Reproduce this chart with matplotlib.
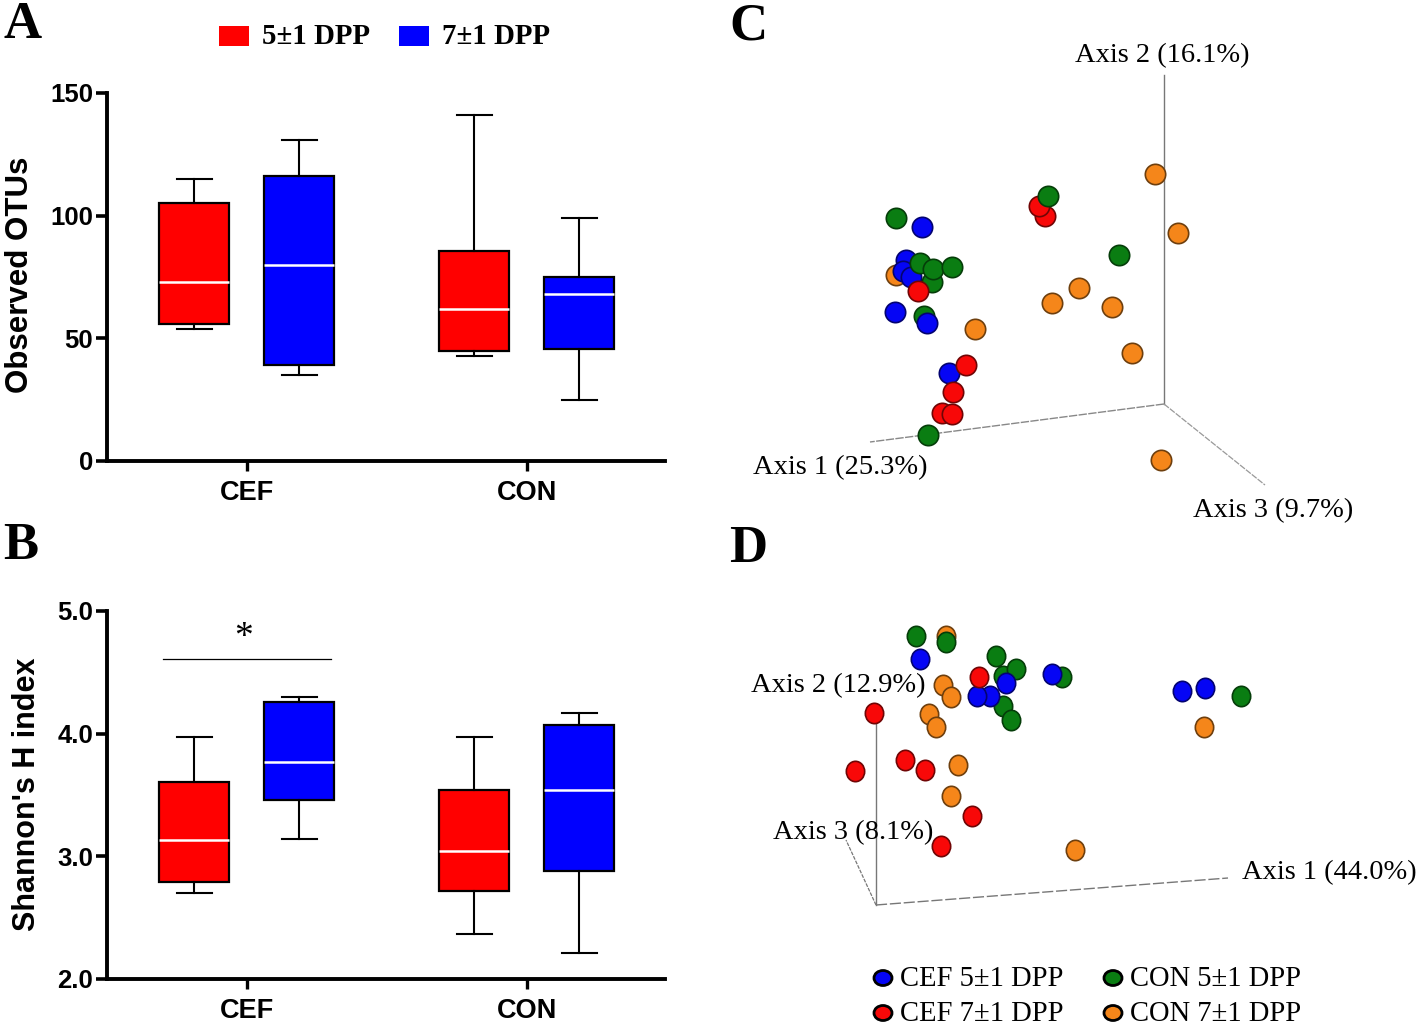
import numpy as np
import matplotlib
matplotlib.use("Agg")
import matplotlib.pyplot as plt
from matplotlib.patches import Rectangle, Ellipse
from matplotlib.path import Path
from matplotlib.transforms import Affine2D

W, H = 1418, 1025
SERIF = "Liberation Serif"
SANS = "Liberation Sans"

groups = ["CEF", "CON"]
dpp_labels = ["5±1 DPP", "7±1 DPP"]
box_colors = ["#ff0000", "#0000ff"]

# whisker low, q1, median, q3, whisker high
otus_cef_5 = [54, 56, 73, 105, 115]
otus_cef_7 = [35, 39, 80, 116, 131]
otus_con_5 = [43, 45, 62, 85.5, 141]
otus_con_7 = [25, 45.5, 68, 75, 99]

shannon_cef_5 = [2.70, 2.79, 3.13, 3.61, 3.97]
shannon_cef_7 = [3.14, 3.46, 3.77, 4.26, 4.30]
shannon_con_5 = [2.37, 2.72, 3.04, 3.54, 3.97]
shannon_con_7 = [2.21, 2.88, 3.54, 4.07, 4.17]

# PCoA points as they land on the page (already projected from 3D)
c_orange = [(896, 275), (975, 329), (1155, 174), (1178, 233), (1052, 303), (1079, 288),
            (1112, 307), (1132, 353), (1161, 460)]
c_blue = [(922, 227), (906, 260), (903, 271), (911, 277), (895, 312), (949, 373)]
c_green = [(896, 218), (920, 263), (932, 282), (933, 269), (952, 267), (924, 316), (928, 435),
           (1119, 255)]
c_red = [(918, 291), (966, 365), (953, 392), (942, 413), (952, 414), (1045, 216), (1039, 206)]
# these two sit in front of the others
c_green_front = [(1048, 196)]
c_blue_front = [(927, 323)]

d_orange = [(946, 636), (943, 685), (951, 697), (929, 714), (936, 727), (958, 765), (951, 796),
            (1075, 850), (1204, 727)]
d_green = [(916, 636), (946, 642), (996, 656), (1003, 676), (1016, 669), (1003, 706), (1011, 720),
           (1062, 677), (1241, 696)]
d_blue = [(920, 659), (1006, 683), (990, 696), (977, 696), (1052, 674), (1182, 691), (1205, 688)]
d_red = [(979, 677), (874, 713), (855, 771), (905, 760), (925, 770), (972, 816), (941, 846)]

sphere_colors = {"orange": ("#f5861a", "#6e3f0e"), "green": ("#0a7d12", "#053d09"),
                 "blue": ("#0505f5", "#030370"), "red": ("#f80808", "#700505")}

# panel D is a little squashed sideways
tall_dot = Path.unit_circle().transformed(Affine2D().scale(0.9, 1.0))


def px_axes(fig, left, top, right, bottom):
    return fig.add_axes([left / W, 1 - bottom / H, (right - left) / W, (bottom - top) / H])


def box_panel(ax, stats, ylim, yticks, yticklabels):
    # groups sit at 0 and 1, the two boxes 0.1875 either side
    offs = [-0.1875, 0.1875, 0.8125, 1.1875]
    cols = box_colors * 2
    for s, x, c in zip(stats, offs, cols):
        ax.bxp([dict(whislo=s[0], q1=s[1], med=s[2], q3=s[3], whishi=s[4], fliers=[])],
               positions=[x], widths=0.25, patch_artist=True, showfliers=False,
               boxprops=dict(facecolor=c, edgecolor="black", linewidth=1.6),
               medianprops=dict(color="white", linewidth=1.8, solid_capstyle="butt"),
               whiskerprops=dict(color="black", linewidth=1.5),
               capprops=dict(color="black", linewidth=1.5), capwidths=0.125,
               manage_ticks=False)
    ax.set_xlim(-0.5, 1.493)
    ax.set_ylim(*ylim)
    ax.set_yticks(yticks)
    ax.set_yticklabels(yticklabels)
    ax.set_xticks([0, 1])
    ax.set_xticklabels(groups, fontfamily=SANS, fontweight="bold", fontsize=19.5)
    ax.tick_params(axis="x", length=7, width=2.4, pad=7)
    ax.tick_params(axis="y", length=8, width=2.6, pad=2, labelsize=18.5)
    for t in ax.get_yticklabels():
        t.set_fontfamily(SANS)
        t.set_fontweight("bold")
    for sp in ["top", "right"]:
        ax.spines[sp].set_visible(False)
    for sp in ["left", "bottom"]:
        ax.spines[sp].set_linewidth(2.8)
    ax.patch.set_alpha(0)


fig = plt.figure(figsize=(W / 100, H / 100), dpi=100, facecolor="white")

ax_a = px_axes(fig, 107, 93, 665, 461)
box_panel(ax_a, [otus_cef_5, otus_cef_7, otus_con_5, otus_con_7], (0, 150), [0, 50, 100, 150],
          ["0", "50", "100", "150"])

ax_b = px_axes(fig, 107, 611, 665, 979)
box_panel(ax_b, [shannon_cef_5, shannon_cef_7, shannon_con_5, shannon_con_7], (2, 5),
          [2, 3, 4, 5], ["2.0", "3.0", "4.0", "5.0"])
ax_b.plot([-0.3, 0.3], [4.61, 4.61], color="black", lw=0.9)
ax_b.text(-0.012, 4.78, "*", fontfamily=SERIF, fontsize=27, ha="center", va="center")

# page overlay in pixel coordinates
ov = fig.add_axes([0, 0, 1, 1], zorder=-1)
ov.set_xlim(0, W)
ov.set_ylim(H, 0)
ov.axis("off")

ov.text(20, 275, "Observed OTUs", rotation=90, fontfamily=SANS, fontweight="bold",
        fontsize=22.5, ha="center", va="center")
ov.text(27, 794, "Shannon's H index", rotation=90, fontfamily=SANS, fontweight="bold",
        fontsize=22, ha="center", va="center")

for s, x, y in [("A", 23, 25), ("B", 21, 546), ("C", 748, 26), ("D", 748, 549)]:
    ov.text(x, y, s, fontfamily=SERIF, fontweight="bold", fontsize=38, ha="center", va="center")

for x, c, lab, tx in zip([219, 399], box_colors, dpp_labels, [262, 442]):
    ov.add_patch(Rectangle((x, 26), 30, 20, facecolor=c, edgecolor="none"))
    ov.text(tx, 37, lab, fontfamily=SERIF, fontweight="bold", fontsize=20.8, va="center")


def spheres(points, name, size=215, marker="o"):
    pts = np.array(points)
    ov.scatter(pts[:, 0], pts[:, 1], s=size, c=sphere_colors[name][0], marker=marker,
               edgecolors=sphere_colors[name][1], linewidths=1.2, zorder=3)


# panel C frame
ov.plot([1164, 1164], [75, 404], color="#777777", lw=1.0, zorder=1)
ov.plot([1164, 870], [404, 442], color="#888888", lw=1.0, ls=(0, (6, 1)), zorder=1)
ov.plot([1164, 1265], [404, 485], color="#999999", lw=0.9, ls=(0, (5, 1)), zorder=1)
for name, pts in [("orange", c_orange), ("blue", c_blue), ("green", c_green), ("red", c_red),
                  ("green", c_green_front), ("blue", c_blue_front)]:
    spheres(pts, name)
ov.text(1162, 56, "Axis 2 (16.1%)", fontfamily=SERIF, fontsize=20.5, ha="center", va="center")
ov.text(840, 468, "Axis 1 (25.3%)", fontfamily=SERIF, fontsize=20.5, ha="center", va="center")
ov.text(1273, 511, "Axis 3 (9.7%)", fontfamily=SERIF, fontsize=20.5, ha="center", va="center")

# panel D frame
ov.plot([876, 876], [905, 705], color="#777777", lw=1.0, zorder=1)
ov.plot([876, 1228], [905, 878], color="#777777", lw=1.0, ls=(0, (8, 2)), zorder=1)
ov.plot([876, 846], [905, 840], color="#777777", lw=0.9, ls=(0, (3, 1)), zorder=1)
for name, pts in [("orange", d_orange), ("green", d_green), ("blue", d_blue), ("red", d_red)]:
    spheres(pts, name, marker=tall_dot)
ov.text(838, 686, "Axis 2 (12.9%)", fontfamily=SERIF, fontsize=20.5, ha="center", va="center", zorder=4)
ov.text(853, 833, "Axis 3 (8.1%)", fontfamily=SERIF, fontsize=20.5, ha="center", va="center", zorder=4)
ov.text(1329, 873, "Axis 1 (44.0%)", fontfamily=SERIF, fontsize=20.5, ha="center", va="center", zorder=4)

# bottom legend
leg_x = [883, 1113]
leg_y = [978, 1013]
leg_items = [("blue", "CEF 5±1 DPP"), ("red", "CEF 7±1 DPP"), ("green", "CON 5±1 DPP"), ("orange", "CON 7±1 DPP")]
for i, (name, lab) in enumerate(leg_items):
    x = leg_x[i // 2]
    y = leg_y[i % 2]
    ov.add_patch(Ellipse((x, y), 18, 15, facecolor=sphere_colors[name][0], edgecolor="black", linewidth=2.0))
    ov.text(x + 17, y + 1, lab, fontfamily=SERIF, fontsize=20.6, va="center")

fig.savefig("out.png", dpi=100)
